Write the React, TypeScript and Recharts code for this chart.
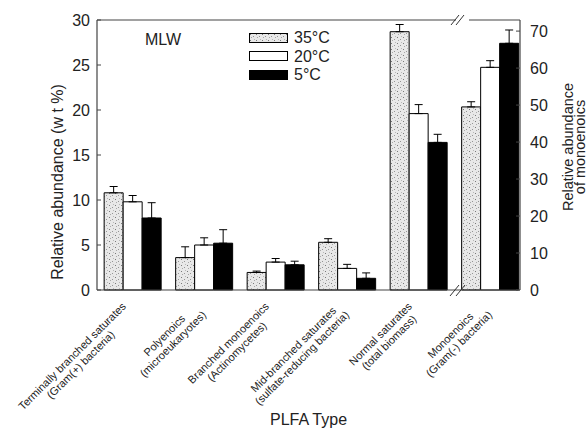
import React from 'react';
import { BarChart, Bar, XAxis, YAxis, ErrorBar, ReferenceLine } from 'recharts';

// PLFA groups (two-line tick labels)
const groupNames = [
  'Terminally branched saturates',
  'Polyenoics',
  'Branched monoenoics',
  'Mid-branched saturates',
  'Normal saturates',
  'Monoenoics',
];
const groupSubs = [
  '(Gram(+) bacteria)',
  '(microeukaryotes)',
  '(Actinomycetes)',
  '(sulfate-reducing bacteria)',
  '(total biomass)',
  '(Gram(-) bacteria)',
];

// left axis, wt %
const wt35 = [10.8, 3.6, 1.95, 5.3, 28.7, null];
const wt20 = [9.8, 5.0, 3.1, 2.4, 19.6, null];
const wt5 = [8.0, 5.2, 2.8, 1.3, 16.4, null];
const wtErr35 = [0.7, 1.2, 0.15, 0.4, 0.8, null];
const wtErr20 = [0.7, 0.8, 0.4, 0.45, 1.0, null];
const wtErr5 = [1.7, 1.5, 0.4, 0.6, 0.9, null];

// right axis, monoenoics
const mono35 = [null, null, null, null, null, 49.5];
const mono20 = [null, null, null, null, null, 60.2];
const mono5 = [null, null, null, null, null, 66.7];
const monoErr35 = [null, null, null, null, null, 1.4];
const monoErr20 = [null, null, null, null, null, 1.8];
const monoErr5 = [null, null, null, null, null, 3.6];

const leftTicks = [0, 5, 10, 15, 20, 25, 30];
const rightTicks = [0, 10, 20, 30, 40, 50, 60, 70];
const legendLabels = ['35°C', '20°C', '5°C'];
const legendFills = ['url(#stipple)', '#ffffff', '#000000'];

const FONT = '"Liberation Sans", Arial, sans-serif';
const INK = '#222';

const up = (v: number | null) => (v == null ? null : [0, v]);

const data = groupNames.map((name, i) => ({
  name,
  w35: wt35[i], w20: wt20[i], w5: wt5[i],
  ew35: up(wtErr35[i]), ew20: up(wtErr20[i]), ew5: up(wtErr5[i]),
  m35: mono35[i], m20: mono20[i], m5: mono5[i],
  em35: up(monoErr35[i]), em20: up(monoErr20[i]), em5: up(monoErr5[i]),
}));

let ctx: CanvasRenderingContext2D | null = null;
function textWidth(s: string, size: number) {
  if (!ctx) ctx = document.createElement('canvas').getContext('2d');
  if (!ctx) return s.length * size * 0.5;
  ctx.font = `${size}px ${FONT}`;
  return ctx.measureText(s).width;
}

function CategoryTick(props: any) {
  const { x, y, payload } = props;
  const i = groupNames.indexOf(payload.value);
  const a = groupNames[i];
  const b = groupSubs[i];
  const w = Math.max(textWidth(a, 11), textWidth(b, 11));
  return (
    <g transform={`translate(${x - 6},${y + 17}) rotate(-45)`}>
      <text textAnchor="middle" fontSize={11} fill={INK} fontFamily={FONT}>
        <tspan x={-w / 2} y={0}>{a}</tspan>
        <tspan x={-w / 2} y={12}>{b}</tspan>
      </text>
    </g>
  );
}

function LeftLabel(props: any) {
  const { viewBox } = props;
  const cy = viewBox.y + viewBox.height / 2 + 27;
  return (
    <text transform={`translate(63,${cy}) rotate(-90)`} textAnchor="middle" fontSize={16} fill={INK} fontFamily={FONT}>
      Relative abundance (w t %)
    </text>
  );
}

function RightLabel(props: any) {
  const { viewBox } = props;
  const cx = viewBox.x + 53;
  const cy = viewBox.y + 127;
  return (
    <text transform={`translate(${cx},${cy}) rotate(-90)`} textAnchor="middle" fontSize={14.5} fill={INK} fontFamily={FONT}>
      <tspan x={0} y={0}>Relative abundance</tspan>
      <tspan x={0} y={12}>of monoenoics</tspan>
    </text>
  );
}

function LegendBox() {
  return (
    <div style={{ position: 'absolute', left: 249, top: 29, fontFamily: FONT, fontSize: 16, color: INK, lineHeight: 1 }}>
      {legendLabels.map((l, i) => (
        <div key={l} style={{ display: 'flex', alignItems: 'center', height: 18.5 }}>
          <svg width={40} height={11} style={{ marginRight: 5 }}>
            <rect x={0.5} y={0.5} width={38} height={9} fill={legendFills[i]} stroke="#000" />
          </svg>
          <span>{l}</span>
        </div>
      ))}
    </div>
  );
}

export default function App() {
  const bar = { stroke: '#000', strokeWidth: 1, isAnimationActive: false };
  const err = { stroke: '#000', strokeWidth: 1, width: 4 };
  return (
    <div style={{ position: 'absolute', left: 0, top: 0, width: 587, height: 428, background: '#fff', fontFamily: FONT, overflow: 'hidden' }}>
      <BarChart width={587} height={428} data={data} margin={{ top: 20, right: 0, bottom: 0, left: 0 }}
        barCategoryGap="10%" barGap={0}>
        <defs>
          <pattern id="stipple" width="6" height="6" patternUnits="userSpaceOnUse">
            <rect width="6" height="6" fill="#e8e8e8" />
            <rect x="1" y="1" width="1" height="1" fill="#7a7a7a" />
            <rect x="4" y="3" width="1" height="1" fill="#959595" />
            <rect x="2" y="4" width="1" height="1" fill="#a8a8a8" />
            <rect x="5" y="0" width="1" height="1" fill="#b8b8b8" />
          </pattern>
        </defs>
        <XAxis dataKey="name" height={138} interval={0} tickLine={false} tickSize={0} tickMargin={0}
          padding={{ left: 0, right: -6 }} axisLine={{ stroke: '#444', strokeWidth: 1.2 }}
          tick={<CategoryTick />}
          label={{ value: 'PLFA Type', position: 'insideBottom', offset: 3, fontSize: 16, fill: INK }} />
        <YAxis yAxisId="left" width={97} domain={[0, 30]} ticks={leftTicks} tickSize={-4} tickMargin={11}
          axisLine={{ stroke: '#444', strokeWidth: 1.2 }} tickLine={{ stroke: '#444' }}
          tick={{ fontSize: 16, fill: INK }} label={<LeftLabel />} />
        <YAxis yAxisId="right" orientation="right" width={67} domain={[0, 73]} ticks={rightTicks}
          tickSize={-4} tickMargin={14} axisLine={{ stroke: '#444', strokeWidth: 1.2 }} tickLine={{ stroke: '#444' }}
          tick={{ fontSize: 16, fill: INK, textAnchor: 'start' }} label={<RightLabel />} />
        <ReferenceLine yAxisId="left" y={30} stroke="#444" strokeWidth={1.2} />

        <Bar yAxisId="left" dataKey="w35" stackId="t35" fill="url(#stipple)" {...bar}>
          <ErrorBar dataKey="ew35" {...err} />
        </Bar>
        <Bar yAxisId="left" dataKey="w20" stackId="t20" fill="#fff" {...bar}>
          <ErrorBar dataKey="ew20" {...err} />
        </Bar>
        <Bar yAxisId="left" dataKey="w5" stackId="t5" fill="#000" {...bar}>
          <ErrorBar dataKey="ew5" {...err} />
        </Bar>
        <Bar yAxisId="right" dataKey="m35" stackId="t35" fill="url(#stipple)" {...bar}>
          <ErrorBar dataKey="em35" {...err} />
        </Bar>
        <Bar yAxisId="right" dataKey="m20" stackId="t20" fill="#fff" {...bar}>
          <ErrorBar dataKey="em20" {...err} />
        </Bar>
        <Bar yAxisId="right" dataKey="m5" stackId="t5" fill="#000" {...bar}>
          <ErrorBar dataKey="em5" {...err} />
        </Bar>
      </BarChart>
      <LegendBox />
      {/* overlay: panel tag and axis break marks */}
      <svg width={587} height={428} style={{ position: 'absolute', left: 0, top: 0, pointerEvents: 'none' }}>
        <text x={145} y={45} fontSize={16} fill={INK} fontFamily={FONT}>MLW</text>
        <rect x={456} y={17} width={13} height={6} fill="#fff" />
        <line x1={451} y1={25} x2={459} y2={15} stroke="#333" strokeWidth={1} />
        <line x1={456} y1={25} x2={464} y2={15} stroke="#333" strokeWidth={1} />
        <line x1={450} y1={296} x2={459} y2={285} stroke="#333" strokeWidth={1} />
        <line x1={456} y1={296} x2={465} y2={285} stroke="#333" strokeWidth={1} />
      </svg>
    </div>
  );
}
